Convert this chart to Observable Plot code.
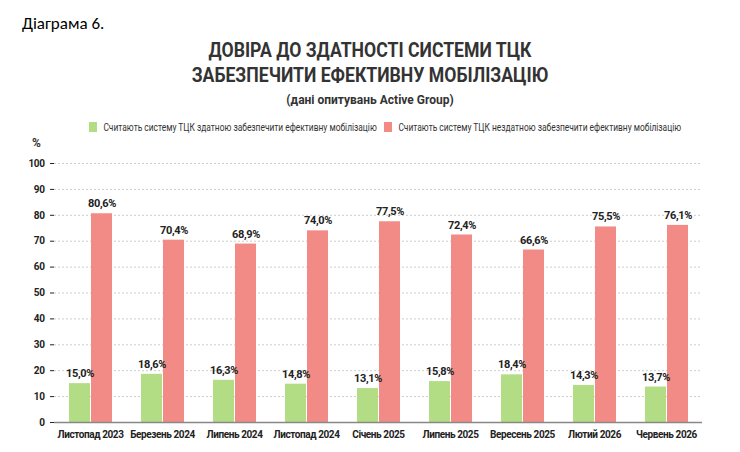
<!DOCTYPE html>
<html><head><meta charset="utf-8">
<script src="https://cdn.jsdelivr.net/npm/d3@7"></script>
<script src="https://cdn.jsdelivr.net/npm/@observablehq/plot@0.6"></script>
<style>
body{margin:0;width:740px;height:452px;background:#fff;position:relative;overflow:hidden;font-family:Roboto,sans-serif}
.a{position:absolute;white-space:nowrap}
#cap{left:22px;top:13px;font-family:Calibri,Carlito,"Liberation Sans",sans-serif;font-size:17px;color:#000}
.t{left:0;width:740px;text-align:center;font-weight:bold;color:#333;font-size:21px;transform:scaleX(0.84)}
#sub{left:0;width:740px;text-align:center;top:93px;font-weight:bold;font-size:12px;color:#333}
.lg{top:121px;font-size:10.5px;color:#333;transform:scaleX(0.8);transform-origin:left}
.sw{display:inline-block;width:10px;height:10px;margin-right:8px;vertical-align:-1px}
#pct{left:32px;top:136px;font-weight:bold;font-size:12px;color:#333}
#chart{left:0;top:150px}
svg text{letter-spacing:-0.4px}
</style></head><body>
<div class="a" id="cap">Діаграма 6.</div>
<div class="a t" style="top:38px">ДОВІРА ДО ЗДАТНОСТІ СИСТЕМИ ТЦК</div>
<div class="a t" style="top:63px">ЗАБЕЗПЕЧИТИ ЕФЕКТИВНУ МОБІЛІЗАЦІЮ</div>
<div class="a" id="sub">(дані опитувань Active Group)</div>
<div class="a lg" style="left:89px"><span class="sw" style="background:#b2dd85"></span>Считають систему ТЦК здатною забезпечити ефективну мобілізацію</div>
<div class="a lg" style="left:384px"><span class="sw" style="background:#f28b86"></span>Считають систему ТЦК нездатною забезпечити ефективну мобілізацію</div>
<div class="a" id="pct">%</div>
<div class="a" id="chart"></div>
<script>
const periods = ["Листопад 2023","Березень 2024","Липень 2024","Листопад 2024","Січень 2025","Липень 2025","Вересень 2025","Лютий 2026","Червень 2026"];
const capable = [15.0,18.6,16.3,14.8,13.1,15.8,18.4,14.3,13.7];
const notCapable = [80.6,70.4,68.9,74.0,77.5,72.4,66.6,75.5,76.1];
const series = ["g","r"];
const data = periods.flatMap((p,i)=>[{p,s:"g",v:capable[i]},{p,s:"r",v:notCapable[i]}]);
const fmt = v => v.toFixed(1).replace(".",",")+"%";
const chart = Plot.plot({
  width:740,height:300,marginTop:13,marginBottom:28,marginLeft:50,marginRight:35,
  style:{fontFamily:"Roboto,sans-serif",fontSize:"10px",fontWeight:"bold",color:"#222"},
  fx:{domain:periods,padding:0,label:null,axis:"bottom",tickSize:0,tickPadding:8},
  x:{domain:series,paddingInner:0.05,paddingOuter:0.6,axis:null},
  y:{domain:[0,100],ticks:d3.range(0,101,10),label:null,tickSize:4,tickPadding:6},
  color:{domain:series,range:["#b2dd85","#f28b86"]},
  marks:[
    Plot.gridY(d3.range(10,101,10),{stroke:"#ccc",strokeOpacity:1,strokeDasharray:"2,2"}),
    Plot.barY(data,{fx:"p",x:"s",y:"v",fill:"s"}),
    Plot.text(data,{fx:"p",x:"s",y:"v",text:d=>fmt(d.v),dy:-10,fontSize:11,fill:"#222"}),
    Plot.ruleY([0],{stroke:"#888",strokeWidth:1.5})
  ]
});
document.getElementById("chart").append(chart);
</script></body></html>
